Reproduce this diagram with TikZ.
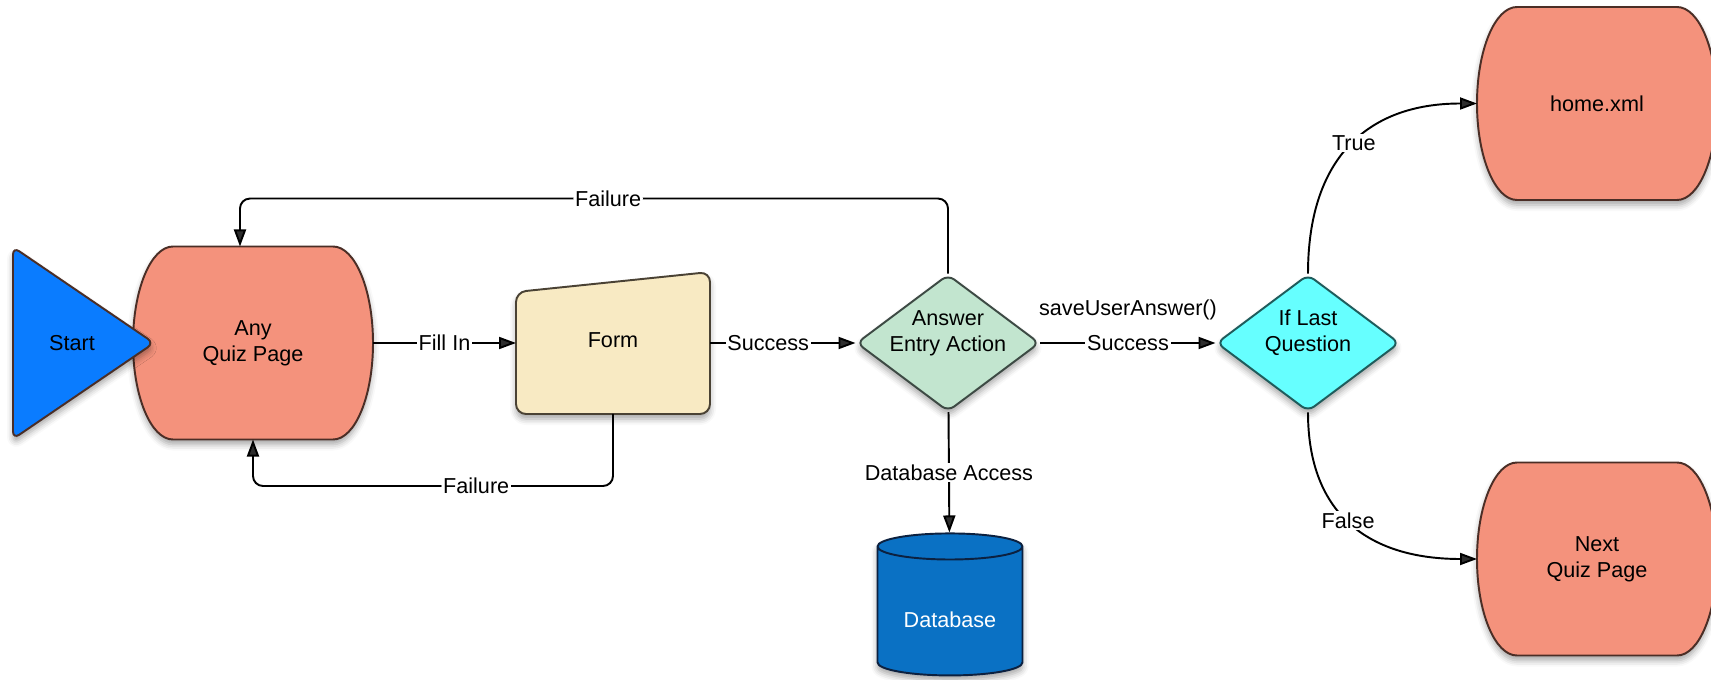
\documentclass[tikz,border=0pt]{standalone}
\usepackage{fontspec}
\setmainfont{Liberation Sans}
\usetikzlibrary{shapes.geometric, arrows.meta, shadows.blur}

\definecolor{pagered}{HTML}{F4927C}
\definecolor{pageedge}{HTML}{4B2E26}
\definecolor{startblue}{HTML}{0A7CFF}
\definecolor{formyellow}{HTML}{F8EAC3}
\definecolor{formedge}{HTML}{4A4234}
\definecolor{answergreen}{HTML}{C2E5CF}
\definecolor{answeredge}{HTML}{3D4A44}
\definecolor{ifcyan}{HTML}{66FFFF}
\definecolor{ifedge}{HTML}{1F5C5C}
\definecolor{dbblue}{HTML}{0A71C4}
\definecolor{dbedge}{HTML}{0C2140}

\tikzstyle{soft} = [blur shadow={shadow xshift=0pt, shadow yshift=-0.1cm, shadow blur radius=0.12cm, shadow opacity=35}]
\tikzstyle{pageframe} = [rectangle, minimum width=4.8cm, minimum height=3.86cm, outer sep=0pt]
\tikzstyle{pageshape} = [line width=1.1pt, draw=pageedge, fill=pagered, soft]
\tikzstyle{formframe} = [rectangle, minimum width=3.88cm, minimum height=2.84cm, outer sep=0pt]
\tikzstyle{formshape} = [line width=1.1pt, draw=formedge, fill=formyellow, rounded corners=0.2cm, soft]
\tikzstyle{choice} = [diamond, aspect=1.34, minimum width=3.66cm, minimum height=2.74cm, inner sep=0pt, rounded corners=0.15cm, line width=1.1pt, soft]
\tikzstyle{choicetext} = [align=center, yshift=0.2cm]
\tikzstyle{store} = [cylinder, shape border rotate=90, aspect=0.25, minimum width=2.9cm, minimum height=2.84cm, text height=0.55cm, draw=dbedge, fill=dbblue, line width=1.1pt, text=white, soft]
\tikzstyle{arrow} = [line width=1.1pt, ->, >={Triangle[length=0.34cm, width=0.24cm]}]
\tikzstyle{edgelabel} = [fill=white, inner sep=1pt]

% outline of a page: flat top and bottom, half ellipses at the sides
\newcommand{\pageoutline}[1]{%
  \filldraw[pageshape] ([xshift=0.8cm]#1.north west) -- ([xshift=-0.8cm]#1.north east)
    arc[start angle=90, end angle=-90, x radius=0.8cm, y radius=1.93cm]
    -- ([xshift=0.8cm]#1.south west)
    arc[start angle=270, end angle=90, x radius=0.8cm, y radius=1.93cm] -- cycle;}

\begin{document}
\begin{tikzpicture}[node distance=7.2cm, font=\fontsize{12.3}{14.8}\selectfont]
  \useasboundingbox (0,0) rectangle (34.22,-13.6);

  % frames first, outlines and texts go on top of them
  \node (quiz) [pageframe] at (5.06,-6.86) {};
  \node (form) [formframe, right of=quiz] {};
  \node (answer) [choice, draw=answeredge, fill=answergreen, right of=form, xshift=-0.5cm,
    label={[choicetext]center:Answer\\Entry Action}] {};
  \node (iflast) [choice, draw=ifedge, fill=ifcyan, right of=answer,
    label={[choicetext]center:If Last\\Question}] {};
  \node (db) [store, below of=answer, yshift=1.78cm, xshift=0.04cm] {Database};
  \node (home) [pageframe, right of=iflast, xshift=-1.42cm, yshift=4.79cm] {};
  \node (next) [pageframe, right of=iflast, xshift=-1.42cm, yshift=-4.32cm] {};

  \pageoutline{quiz}
  \pageoutline{home}
  \pageoutline{next}
  \filldraw[formshape] (form.south west) -- ([yshift=-0.4cm]form.north west) -- (form.north east) -- (form.south east) -- cycle;

  \node (quiztext) [align=center] at (quiz) {Any\\Quiz Page};
  \node (formtext) [yshift=0.06cm] at (form) {Form};
  \node (hometext) at (home) {home.xml};
  \node (nexttext) [align=center] at (next) {Next\\Quiz Page};

  % start marker sits over the left side of the page
  \filldraw[line width=1.1pt, draw=pageedge, fill=startblue, rounded corners=0.15cm, soft]
    (0.26,-4.94) -- (3.08,-6.86) -- (0.26,-8.78) -- cycle;
  \node (start) at (1.44,-6.86) {Start};

  \draw [arrow] (quiz) -- node[edgelabel] {Fill In} (form);
  \draw [arrow] (form) -- node[edgelabel, pos=0.4] {Success} (answer);
  \draw [arrow, rounded corners=0.2cm] (form.south) -- ++(0,-1.44) -| node[edgelabel, pos=0.19] {Failure} (quiz.south);
  \draw [arrow, rounded corners=0.2cm] (answer.north) -- ++(0,1.5) -| node[edgelabel, pos=0.24] {Failure} ([xshift=-0.26cm]quiz.north);
  \draw [arrow] (answer) -- node[edgelabel, pos=0.5] {Database Access} (db);
  \draw [arrow] (answer) -- node[edgelabel] {Success} node[yshift=0.66cm] {saveUserAnswer()} (iflast);
  \draw [arrow] (iflast.north) to[out=90, in=180, looseness=1.2] node[edgelabel, pos=0.52] {True} (home.west);
  \draw [arrow] (iflast.south) to[out=-90, in=180, looseness=1.2] node[edgelabel, pos=0.47] {False} (next.west);
\end{tikzpicture}
\end{document}
